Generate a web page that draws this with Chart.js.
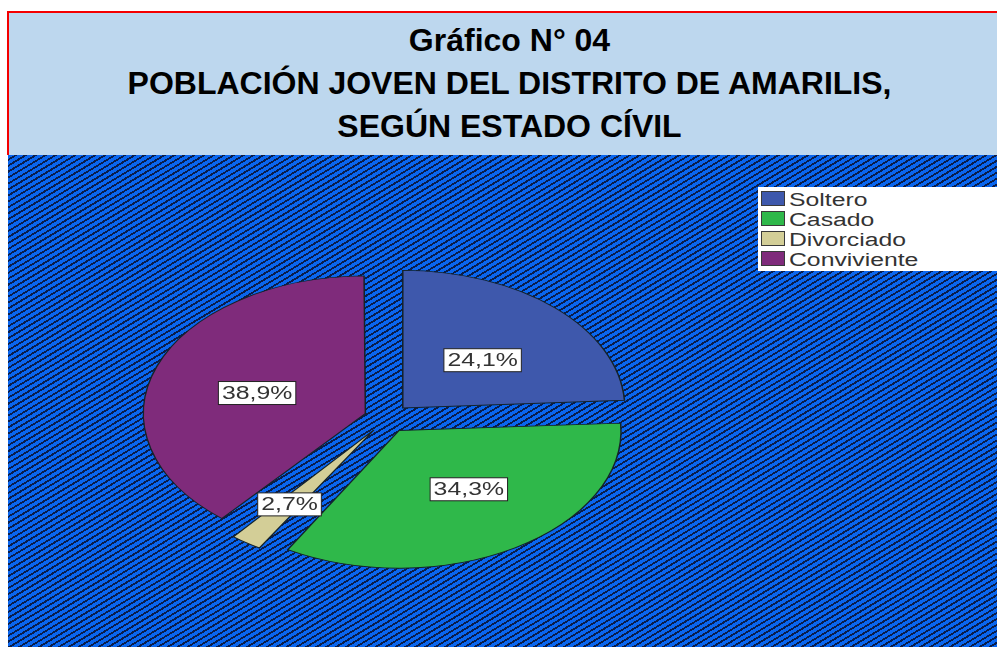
<!DOCTYPE html>
<html lang="es">
<head>
<meta charset="utf-8">
<title>Gráfico N° 04</title>
<script src="https://cdn.jsdelivr.net/npm/chart.js@4"></script>
<style>
html,body{margin:0;padding:0;background:#fff;width:997px;height:647px;overflow:hidden;font-family:"Liberation Sans",Arial,sans-serif}
#hatch{position:absolute;left:8px;top:155px;width:989px;height:492px;background:repeating-linear-gradient(149deg,#0a66ee 0 3.3px,#0a1d4a 3.3px 5.1px)}
#titlebox{position:absolute;left:7px;top:11px;width:990px;height:144px;box-sizing:border-box;background:#bdd7ee;border-left:2.5px solid #f40000;border-top:2.5px solid #f40000;text-align:center;font-weight:bold;font-size:32px;line-height:43px;color:#000;padding-top:6px;padding-left:13px}
canvas{position:absolute;left:0;top:0}
#legend{position:absolute;left:758px;top:187px;width:239px;height:84px;background:#fff}
.row{position:absolute;left:3px;height:20px}
.sw{position:absolute;left:0;top:3px;width:24px;height:15px;box-sizing:border-box;border:1.5px solid #3a3a3a}
.tx{position:absolute;left:28px;top:2px;font-size:18px;line-height:21px;color:#333;white-space:nowrap;transform:scaleX(1.375);transform-origin:0 0}
</style>
</head>
<body>
<div id="hatch"></div>
<div id="titlebox"></div>
<canvas id="c" width="997" height="647"></canvas>
<div id="legend"></div>
<script>
const titleLines = ["Gráfico N° 04", "POBLACIÓN JOVEN DEL DISTRITO DE AMARILIS,", "SEGÚN ESTADO CÍVIL"];
const categories = ["Soltero", "Casado", "Divorciado", "Conviviente"];
const percentages = [24.1, 34.3, 2.7, 38.9];
const sliceColors = ["#3e58ac", "#2fb84a", "#d3ce97", "#7f2b7b"];
const labelRadiusFactors = [0.5, 0.53, 0.66, 0.51];
const labelAngleNudges = [2.6, -4.9, 0, -3];

const SQUASH = 0.62, EXPLODE = 23, CENTER_Y = 418.4;

document.getElementById('titlebox').innerHTML = titleLines.map(t => '<div>' + t + '</div>').join('');
const legendEl = document.getElementById('legend');
categories.forEach((name, i) => {
  const row = document.createElement('div');
  row.className = 'row';
  row.style.top = (20 * i + 1) + 'px';
  row.innerHTML = '<div class="sw" style="background:' + sliceColors[i] + '"></div><div class="tx">' + name + '</div>';
  legendEl.appendChild(row);
});

const ellipsePlugin = {
  id: 'ellipse',
  afterDatasetsUpdate(chart) {
    // Chart.js enlarges wide-or-narrow exploded slices; keep one radius for all of them.
    const meta = chart.getDatasetMeta(0);
    const base = meta.controller.outerRadius;
    meta.data.forEach(arc => {
      const fix = 1 - Math.sin(Math.min(Math.PI, arc.circumference || 0));
      arc.outerRadius = base - EXPLODE * fix;
    });
  },
  beforeDatasetsDraw(chart) {
    const a = chart.chartArea, ctx = chart.ctx;
    ctx.save();
    ctx.translate(0, CENTER_Y);
    ctx.scale(1, SQUASH);
    ctx.translate(0, -(a.top + a.bottom) / 2);
  },
  afterDatasetsDraw(chart) {
    const ctx = chart.ctx;
    ctx.restore();
    const meta = chart.getDatasetMeta(0);
    const base = meta.controller.outerRadius;
    ctx.save();
    meta.data.forEach((arc, i) => {
      const mid = (arc.startAngle + arc.endAngle) / 2;
      const dir = mid + labelAngleNudges[i] * Math.PI / 180;
      const r = labelRadiusFactors[i] * base;
      const px = arc.x + Math.cos(mid) * EXPLODE + Math.cos(dir) * r;
      const py = CENTER_Y + (Math.sin(mid) * EXPLODE + Math.sin(dir) * r) * SQUASH;
      const text = percentages[i].toFixed(1).replace('.', ',') + '%';
      ctx.font = '18px "Liberation Sans", Arial, sans-serif';
      const w = ctx.measureText(text).width * 1.38 + 7, h = 23;
      ctx.fillStyle = '#fff';
      ctx.strokeStyle = '#222';
      ctx.lineWidth = 1;
      ctx.fillRect(px - w / 2, py - h / 2, w, h);
      ctx.strokeRect(px - w / 2, py - h / 2, w, h);
      ctx.save();
      ctx.translate(px, py);
      ctx.scale(1.38, 1);
      ctx.fillStyle = '#333';
      ctx.textAlign = 'center';
      ctx.textBaseline = 'middle';
      ctx.fillText(text, 0, 1);
      ctx.restore();
    });
    ctx.restore();
  }
};

new Chart(document.getElementById('c'), {
  type: 'pie',
  data: {
    labels: categories,
    datasets: [{
      data: percentages,
      backgroundColor: sliceColors,
      borderColor: '#14232a',
      borderWidth: 1.5,
      borderJoinStyle: 'miter',
      offset: EXPLODE * 4,
      clip: false
    }]
  },
  options: {
    responsive: false,
    animation: false,
    layout: { padding: { left: 118.25, right: 341.25, top: 54.75, bottom: 54.75 } },
    plugins: { legend: { display: false }, title: { display: false }, tooltip: { enabled: false } }
  },
  plugins: [ellipsePlugin]
});
</script>
</body>
</html>
